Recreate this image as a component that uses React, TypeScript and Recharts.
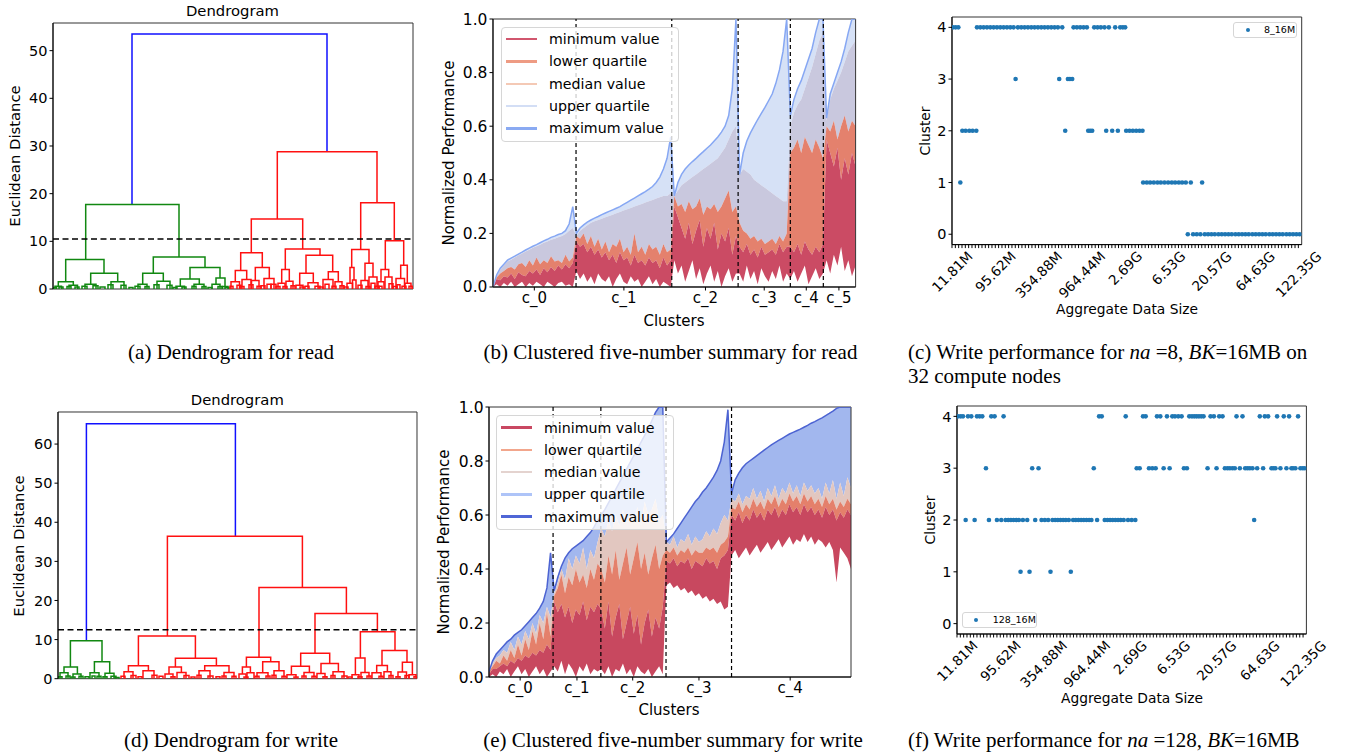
import React from 'react';
import {
  ComposedChart,
  LineChart,
  ScatterChart,
  Line,
  Area,
  Scatter,
  XAxis,
  YAxis,
  ReferenceLine,
  ReferenceArea,
} from 'recharts';

type Rect = { x: number; y: number; w: number; h: number };
// [left x, right x, left leg bottom, right leg bottom, top height, colour]
type Link = [number, number, number, number, number, string];
type Leaf = [number, number, number];

const SANS = '"DejaVu Sans", Verdana, sans-serif';
const SERIF = '"Liberation Serif", "Times New Roman", serif';
const tick = (fontSize: number) => ({ fontSize, fill: '#000', fontFamily: SANS });

const G = '#118811';
const R = '#ff1010';
const B = '#1010ff';

// ---------- (a) dendrogram for read ----------
const readSpan = 360;
const readCut = 10.5;
const readTicks = [0, 10, 20, 30, 40, 50];
const readLinks: Link[] = [
  [79, 274, 17.7, 28.8, 53.5, B],
  [32.7, 126, 6.2, 6.7, 17.7, G],
  [12.7, 51, 1.5, 3.3, 6.2, G],
  [5.3, 20.3, 0.6, 0.8, 1.5, G],
  [37.7, 64.7, 1.0, 1.5, 3.3, G],
  [100.3, 152, 3.3, 4.5, 6.7, G],
  [89.7, 110.3, 1.0, 1.6, 3.3, G],
  [137, 167, 2.1, 2.3, 4.5, G],
  [127.3, 146.3, 0.6, 1.0, 2.1, G],
  [163, 172, 1.0, 0.5, 2.3, G],
  [224.3, 324, 14.7, 18.1, 28.8, R],
  [198.3, 249.7, 7.6, 8.4, 14.7, R],
  [187.7, 209.3, 3.9, 4.5, 7.6, R],
  [182.3, 193.7, 1.5, 2.0, 3.9, R],
  [202.3, 216.3, 1.8, 2.2, 4.5, R],
  [232.3, 267, 4.1, 7.1, 8.4, R],
  [228.7, 236.3, 1.2, 1.6, 4.1, R],
  [253, 279.7, 3.3, 3.6, 7.1, R],
  [246.7, 260.3, 0.8, 1.3, 3.3, R],
  [275.3, 285.3, 2.0, 1.5, 3.6, R],
  [307.7, 341.3, 8.3, 10.1, 18.1, R],
  [298.7, 316, 4.5, 5.4, 8.3, R],
  [297, 301, 1.2, 1.9, 4.5, R],
  [312, 320, 1.8, 2.5, 5.4, R],
  [332.3, 350.7, 4.1, 5.0, 10.1, R],
  [328, 335.7, 1.5, 2.5, 4.1, R],
  [347.7, 354.3, 2.2, 1.2, 5.0, R],
];
const readLeavesGreen: Leaf[] = [
  [2, 8.5, 0.6], [16, 24.5, 0.8], [32, 43, 1.0], [58, 71, 1.5], [85, 94, 1.0],
  [104, 117, 1.6], [123, 131.5, 0.6], [141, 151, 1.0], [159, 167, 1.0], [169.5, 175, 0.5],
  [0.5, 3.5, 0.3], [6, 10, 0.4], [14, 18, 0.5], [22, 26, 0.4], [29, 34, 0.6],
  [40, 45, 0.7], [47, 52, 0.4], [55, 60, 0.9], [68, 73, 0.8], [76, 80, 0.3],
  [82, 87, 0.6], [92, 96, 0.5], [101, 106, 0.9], [114, 119, 0.8], [120, 124, 0.3],
  [129, 133, 0.4], [139, 143, 0.6], [149, 153, 0.5], [155, 159, 0.3], [165, 169, 0.5],
  [172, 176, 0.3],
];
const readLeavesRed: Leaf[] = [
  [178, 186.5, 1.5], [189, 198, 2.0], [198.5, 206, 1.8], [211, 221, 2.2], [225, 232, 1.2],
  [233, 240, 1.6], [243, 250, 0.8], [255, 265, 1.3], [270, 280, 2.0], [282, 289, 1.5],
  [294, 299.5, 1.2], [299.5, 303, 1.9], [308, 315, 1.8], [316, 324, 2.5], [325, 331, 1.5],
  [332, 339, 2.5], [343, 351.5, 2.2], [352, 358, 1.2], [177, 180, 0.6], [184, 188, 0.8],
  [187, 191, 0.5], [196, 200, 0.9], [204, 208, 0.6], [208, 212, 0.7], [214, 218, 1.0],
  [218, 223, 1.0], [223, 227, 0.5], [230, 234, 0.5], [238, 242, 0.7], [247, 251, 0.4],
  [252, 256, 0.6], [262, 267, 0.6], [266, 270, 0.4], [272, 276, 1.0], [279, 283, 0.6],
  [287, 291, 0.7], [291, 295, 0.4], [305, 309, 0.8], [313, 317, 0.5], [318, 322, 1.2],
  [322, 326, 0.6], [326, 329, 0.6], [336, 340, 1.1], [340, 344, 0.5], [344, 347, 0.9],
  [349, 353, 0.6], [356, 359.5, 0.6],
];

// ---------- (d) dendrogram for write ----------
const writeSpan = 359;
const writeCut = 12.5;
const writeTicks = [0, 10, 20, 30, 40, 50, 60];
const writeLinks: Link[] = [
  [28.4, 177.4, 9.7, 36.4, 65.2, B],
  [12.4, 44, 3.0, 4.3, 9.7, G],
  [6, 19.4, 1.5, 1.2, 3.0, G],
  [36.4, 51.7, 1.5, 1.4, 4.3, G],
  [109.4, 244.4, 10.9, 23.3, 36.4, R],
  [80.4, 137.4, 3.3, 5.2, 10.9, R],
  [70.4, 90.4, 1.8, 2.0, 3.3, R],
  [117.4, 158.4, 3.0, 3.3, 5.2, R],
  [111, 123.4, 1.2, 1.6, 3.0, R],
  [146.7, 171, 2.0, 1.6, 3.3, R],
  [201, 288.4, 5.5, 16.7, 23.3, R],
  [188.4, 212.7, 3.0, 4.3, 5.5, R],
  [184.4, 192.4, 1.2, 1.5, 3.0, R],
  [204.7, 221, 1.5, 2.0, 4.3, R],
  [257, 319.4, 6.5, 12.0, 16.7, R],
  [242.7, 271.7, 3.2, 3.9, 6.5, R],
  [233.4, 251.4, 1.0, 1.6, 3.2, R],
  [263, 280.4, 1.3, 1.8, 3.9, R],
  [302.4, 337, 5.3, 7.2, 12.0, R],
  [297.4, 307, 1.0, 1.6, 5.3, R],
  [324, 349, 3.4, 4.2, 7.2, R],
  [318.7, 329.4, 1.5, 1.8, 3.4, R],
  [344.4, 354.4, 1.7, 1.0, 4.2, R],
];
const writeLeavesGreen: Leaf[] = [
  [2, 10, 1.5], [15, 23, 1.2], [32, 41, 1.5], [47, 56, 1.4], [0.5, 4, 0.5],
  [8, 12, 0.7], [13, 17, 0.4], [21, 25, 0.6], [27, 31, 0.5], [34, 37, 0.7],
  [39, 43, 0.6], [45, 49, 0.5], [53, 58, 0.6], [57, 61, 0.3],
];
const writeLeavesRed: Leaf[] = [
  [66, 75, 1.8], [85, 96, 2.0], [107, 115, 1.2], [119, 128, 1.6], [141, 152, 2.0],
  [166, 176, 1.6], [181, 188, 1.2], [189, 196, 1.5], [199, 210, 1.5], [216, 226, 2.0],
  [229, 238, 1.0], [246, 256, 1.6], [259, 267, 1.3], [275, 286, 1.8], [294, 301, 1.0],
  [303, 311, 1.6], [314, 323, 1.5], [326, 333, 1.8], [340, 348.5, 1.7], [351, 358, 1.0],
  [63, 67, 0.6], [73, 78, 0.8], [80, 84, 0.5], [94, 99, 0.9], [101, 105, 0.6],
  [113, 117, 0.5], [126, 131, 0.8], [133, 137, 0.4], [139, 143, 0.9], [150, 155, 0.7],
  [158, 162, 0.5], [164, 168, 0.7], [174, 178, 0.6], [186, 190, 0.4], [197, 201, 0.6],
  [208, 212, 0.7], [214, 218, 0.9], [224, 228, 0.6], [236, 240, 0.4], [244, 248, 0.7],
  [254, 258, 0.6], [265, 269, 0.5], [273, 277, 0.8], [284, 289, 0.7], [290, 294, 0.4],
  [300, 304, 0.5], [309, 313, 0.7], [321, 325, 0.6], [331, 335, 0.8], [338, 342, 0.5],
  [347, 351, 0.8], [356, 359, 0.5],
];

// ---------- (b) five-number summary for read (101 samples, c_0..c_5) ----------
const readClusterNames = ['c_0', 'c_1', 'c_2', 'c_3', 'c_4', 'c_5'];
const readCenters = [11.4, 36.1, 58.6, 74.8, 86.4, 95.4];
const readBounds = [22.9, 49.3, 67.6, 82, 91.1];
const readMax = [
  0.0, 0.045, 0.07, 0.085, 0.1, 0.108, 0.115, 0.123, 0.13, 0.138, 0.145, 0.152, 0.158, 0.165, 0.172, 0.178, 0.185, 0.19, 0.196, 0.2, 0.21, 0.235, 0.3,
  0.2, 0.22, 0.232, 0.242, 0.25, 0.257, 0.263, 0.27, 0.276, 0.282, 0.288, 0.294, 0.3, 0.308, 0.316, 0.324, 0.332, 0.34, 0.348, 0.356, 0.365, 0.375, 0.39, 0.41, 0.44, 0.48, 0.56,
  0.34, 0.39, 0.42, 0.44, 0.455, 0.468, 0.48, 0.493, 0.505, 0.518, 0.53, 0.545, 0.56, 0.578, 0.6, 0.64, 0.74, 1.0,
  0.42, 0.5, 0.545, 0.575, 0.6, 0.625, 0.648, 0.67, 0.695, 0.72, 0.76, 0.81, 0.88, 1.0,
  0.64, 0.7, 0.74, 0.77, 0.81, 0.85, 0.89, 0.95, 1.0, 1.0,
  0.63, 0.72, 0.76, 0.8, 0.84, 0.89, 0.95, 1.0, 1.0,
];
const readQ3 = [
  0.0, 0.04, 0.065, 0.08, 0.095, 0.102, 0.11, 0.118, 0.125, 0.132, 0.139, 0.146, 0.152, 0.158, 0.165, 0.17, 0.176, 0.18, 0.186, 0.19, 0.198, 0.21, 0.22,
  0.19, 0.21, 0.22, 0.23, 0.24, 0.245, 0.25, 0.255, 0.26, 0.265, 0.27, 0.275, 0.28, 0.285, 0.29, 0.295, 0.3, 0.305, 0.31, 0.315, 0.32, 0.325, 0.33, 0.335, 0.34, 0.34, 0.35,
  0.34, 0.36, 0.38, 0.39, 0.4, 0.41, 0.42, 0.43, 0.44, 0.45, 0.46, 0.47, 0.48, 0.5, 0.52, 0.55, 0.58, 0.6,
  0.42, 0.44, 0.43, 0.42, 0.4, 0.39, 0.38, 0.37, 0.36, 0.35, 0.34, 0.33, 0.32, 0.32,
  0.6, 0.65, 0.68, 0.7, 0.74, 0.78, 0.82, 0.87, 0.92, 0.95,
  0.62, 0.7, 0.74, 0.77, 0.8, 0.84, 0.88, 0.9, 0.92,
];
const readMedian = [
  0.0, 0.035, 0.05, 0.06, 0.07, 0.075, 0.065, 0.085, 0.09, 0.075, 0.1, 0.08, 0.11, 0.085, 0.1, 0.09, 0.115, 0.095, 0.1, 0.09, 0.12, 0.095, 0.11,
  0.19, 0.18, 0.2, 0.16, 0.19, 0.15, 0.18, 0.14, 0.17, 0.13, 0.16, 0.15, 0.18, 0.13, 0.15, 0.12, 0.2, 0.13, 0.15, 0.12, 0.16, 0.14, 0.15, 0.12, 0.16, 0.13, 0.14,
  0.34, 0.3, 0.31, 0.28, 0.32, 0.29, 0.3, 0.33, 0.27, 0.3, 0.29, 0.31, 0.28, 0.3, 0.33, 0.36, 0.28, 0.3,
  0.24, 0.21, 0.2, 0.18, 0.19, 0.17, 0.18, 0.16, 0.17, 0.18, 0.16, 0.19, 0.17, 0.2,
  0.5, 0.52, 0.55, 0.5, 0.56, 0.53, 0.5, 0.55, 0.52, 0.48,
  0.6, 0.58, 0.62, 0.55, 0.6, 0.64, 0.58, 0.62, 0.6,
];
const readQ1 = [
  0.0, 0.03, 0.025, 0.04, 0.035, 0.05, 0.03, 0.055, 0.045, 0.04, 0.06, 0.05, 0.065, 0.045, 0.07, 0.055, 0.075, 0.06, 0.08, 0.065, 0.085, 0.07, 0.09,
  0.17, 0.15, 0.16, 0.13, 0.15, 0.12, 0.14, 0.11, 0.13, 0.1, 0.12, 0.09, 0.13, 0.1, 0.11, 0.08, 0.12, 0.09, 0.1, 0.08, 0.11, 0.09, 0.1, 0.07, 0.11, 0.08, 0.1,
  0.3, 0.26, 0.22, 0.18, 0.24, 0.16, 0.21, 0.25, 0.15, 0.22, 0.18, 0.24, 0.14, 0.2, 0.17, 0.22, 0.12, 0.19,
  0.15, 0.13, 0.16, 0.12, 0.14, 0.11, 0.15, 0.12, 0.13, 0.14, 0.12, 0.16, 0.13, 0.15,
  0.15, 0.13, 0.16, 0.12, 0.17, 0.14, 0.12, 0.15, 0.13, 0.16,
  0.55, 0.5, 0.45, 0.52, 0.4, 0.48, 0.42, 0.5, 0.45,
];
const readMin = [
  0.0, 0.01, 0.0, 0.015, 0.005, 0.02, 0.0, 0.01, 0.02, 0.0, 0.015, 0.005, 0.02, 0.01, 0.0, 0.02, 0.01, 0.0, 0.015, 0.02, 0.005, 0.01, 0.0,
  0.06, 0.03, 0.05, 0.02, 0.04, 0.01, 0.05, 0.03, 0.02, 0.04, 0.0, 0.03, 0.05, 0.02, 0.01, 0.04, 0.02, 0.03, 0.0, 0.02, 0.04, 0.01, 0.03, 0.0, 0.02, 0.01, 0.0,
  0.1, 0.05, 0.08, 0.02, 0.06, 0.1, 0.03, 0.07, 0.01, 0.05, 0.08, 0.02, 0.06, 0.0, 0.04, 0.07, 0.02, 0.05,
  0.05, 0.02, 0.08, 0.03, 0.06, 0.01, 0.07, 0.04, 0.02, 0.06, 0.03, 0.08, 0.02, 0.05,
  0.03, 0.06, 0.02, 0.05, 0.08, 0.01, 0.04, 0.07, 0.03, 0.05,
  0.1, 0.05, 0.12, 0.08, 0.15, 0.06, 0.1, 0.04, 0.08,
];

// ---------- (e) five-number summary for write (101 samples, c_0..c_4) ----------
const writeClusterNames = ['c_0', 'c_1', 'c_2', 'c_3', 'c_4'];
const writeCenters = [8.6, 24.3, 39.7, 58, 83.2];
const writeBounds = [17.7, 30.9, 48.9, 67.0];
const writeMax = [
  0.02, 0.06, 0.085, 0.1, 0.115, 0.13, 0.14, 0.155, 0.165, 0.175, 0.19, 0.205, 0.22, 0.235, 0.255, 0.28, 0.33, 0.46,
  0.32, 0.37, 0.41, 0.44, 0.46, 0.475, 0.485, 0.495, 0.505, 0.52, 0.535, 0.555, 0.58,
  0.6, 0.62, 0.645, 0.67, 0.695, 0.72, 0.745, 0.77, 0.795, 0.82, 0.845, 0.87, 0.895, 0.92, 0.95, 0.98, 1.0, 1.0,
  0.5, 0.515, 0.53, 0.55, 0.57, 0.59, 0.61, 0.63, 0.65, 0.665, 0.685, 0.7, 0.72, 0.74, 0.765, 0.8, 0.87, 0.99,
  0.68, 0.73, 0.755, 0.775, 0.79, 0.8, 0.81, 0.82, 0.83, 0.84, 0.85, 0.86, 0.868, 0.876, 0.884, 0.892, 0.9,
  0.906, 0.912, 0.918, 0.925, 0.932, 0.94, 0.946, 0.953, 0.96, 0.968, 0.976, 0.985, 0.995, 1.0, 1.0, 1.0, 1.0,
];
const writeQ3 = [
  0.02, 0.05, 0.07, 0.08, 0.1, 0.09, 0.13, 0.1, 0.15, 0.12, 0.17, 0.14, 0.2, 0.16, 0.23, 0.2, 0.26, 0.22,
  0.31, 0.35, 0.4, 0.36, 0.44, 0.4, 0.45, 0.42, 0.48, 0.4, 0.47, 0.44, 0.5,
  0.55, 0.52, 0.58, 0.54, 0.6, 0.56, 0.62, 0.57, 0.6, 0.58, 0.63, 0.56, 0.65, 0.6, 0.62, 0.66, 0.58, 0.6,
  0.5, 0.49, 0.52, 0.48, 0.51, 0.5, 0.53, 0.49, 0.52, 0.5, 0.51, 0.54, 0.52, 0.55, 0.53, 0.57, 0.6, 0.58,
  0.66, 0.65, 0.68, 0.64, 0.67, 0.66, 0.7, 0.66, 0.69, 0.65, 0.7, 0.67, 0.71, 0.66, 0.7, 0.68, 0.72,
  0.68, 0.71, 0.67, 0.72, 0.69, 0.71, 0.68, 0.7, 0.66, 0.72, 0.68, 0.73, 0.66, 0.72, 0.67, 0.74, 0.7,
];
const writeMedian = [
  0.02, 0.04, 0.06, 0.05, 0.08, 0.06, 0.1, 0.07, 0.12, 0.08, 0.14, 0.1, 0.17, 0.12, 0.2, 0.14, 0.24, 0.15,
  0.3, 0.33, 0.38, 0.31, 0.37, 0.34, 0.4, 0.35, 0.38, 0.33, 0.4, 0.36, 0.42,
  0.4, 0.35, 0.45, 0.38, 0.47, 0.36, 0.42, 0.48, 0.38, 0.44, 0.5, 0.4, 0.46, 0.38, 0.44, 0.49, 0.4, 0.45,
  0.47, 0.46, 0.48, 0.45, 0.47, 0.46, 0.48, 0.45, 0.47, 0.46, 0.46, 0.48, 0.47, 0.48, 0.46, 0.49, 0.5, 0.52,
  0.63, 0.62, 0.65, 0.61, 0.64, 0.62, 0.66, 0.63, 0.65, 0.62, 0.66, 0.64, 0.67, 0.63, 0.66, 0.64, 0.68,
  0.65, 0.67, 0.64, 0.68, 0.65, 0.67, 0.64, 0.66, 0.63, 0.67, 0.64, 0.66, 0.62, 0.65, 0.63, 0.66, 0.64,
];
const writeQ1 = [
  0.01, 0.03, 0.03, 0.04, 0.05, 0.04, 0.06, 0.05, 0.07, 0.06, 0.08, 0.07, 0.09, 0.08, 0.1, 0.09, 0.12, 0.1,
  0.28, 0.24, 0.27, 0.22, 0.26, 0.2, 0.25, 0.23, 0.28, 0.21, 0.26, 0.24, 0.27,
  0.25, 0.18, 0.28, 0.15, 0.22, 0.27, 0.14, 0.2, 0.26, 0.16, 0.23, 0.12, 0.2, 0.25, 0.15, 0.22, 0.18, 0.26,
  0.43, 0.42, 0.44, 0.41, 0.43, 0.42, 0.44, 0.4, 0.43, 0.42, 0.41, 0.44, 0.42, 0.43, 0.4, 0.44, 0.45, 0.47,
  0.6, 0.58, 0.61, 0.57, 0.6, 0.58, 0.62, 0.59, 0.61, 0.58, 0.62, 0.6, 0.63, 0.59, 0.62, 0.6, 0.64,
  0.61, 0.63, 0.6, 0.64, 0.61, 0.63, 0.6, 0.62, 0.59, 0.63, 0.6, 0.62, 0.58, 0.61, 0.59, 0.62, 0.6,
];
const writeMin = [
  0.0, 0.01, 0.0, 0.02, 0.01, 0.03, 0.0, 0.02, 0.04, 0.01, 0.03, 0.0, 0.02, 0.04, 0.01, 0.03, 0.0, 0.02,
  0.04, 0.02, 0.06, 0.01, 0.05, 0.03, 0.0, 0.04, 0.02, 0.05, 0.01, 0.03, 0.02,
  0.03, 0.01, 0.04, 0.0, 0.03, 0.02, 0.05, 0.01, 0.03, 0.0, 0.04, 0.02, 0.01, 0.03, 0.0, 0.02, 0.04, 0.01,
  0.34, 0.35, 0.33, 0.34, 0.32, 0.33, 0.31, 0.32, 0.3, 0.31, 0.29, 0.3, 0.28, 0.29, 0.27, 0.28, 0.25, 0.26,
  0.45, 0.47, 0.44, 0.46, 0.48, 0.45, 0.47, 0.49, 0.46, 0.48, 0.5, 0.47, 0.49, 0.51, 0.48, 0.5, 0.52,
  0.49, 0.51, 0.5, 0.53, 0.5, 0.52, 0.49, 0.51, 0.5, 0.48, 0.5, 0.47, 0.35, 0.48, 0.46, 0.44, 0.4,
];

const statNames = ['minimum value', 'lower quartile', 'median value', 'upper quartile', 'maximum value'];

// ---------- (c)/(f) cluster membership over aggregate data size ----------
const sizeLabels = ['11.81M', '95.62M', '354.88M', '964.44M', '2.69G', '6.53G', '20.57G', '64.63G', '122.35G'];
const sizeLabelPos = [0, 13, 26, 39, 52, 65, 78, 91, 104];
const sizeMinorTicks = Array.from({ length: 105 }, (_, k) => k);

const na8Cluster4 = [
  0.3, 1.1, 1.9, 7.5, 8.5, 9.5, 10.5, 11.5, 12.5, 13.5, 14.5, 15.5, 16.5, 17.5, 18.5,
  19.8, 20.8, 21.8, 22.8, 23.8, 24.8, 25.8, 26.8, 27.8, 28.8, 29.8, 30.8, 31.8, 33.1,
  36.5, 37.5, 38.5, 39.5, 40.5, 42.7, 43.7, 44.7, 45.8, 47.1, 49.0, 50.5, 51.3, 52.0,
];
const na8Cluster3 = [19.1, 32.2, 34.8, 35.4, 36.1];
const na8Cluster2 = [3.1, 4.1, 5.2, 6.2, 7.3, 34.0, 40.9, 41.5, 42.1, 46.3, 48.1, 49.8, 52.3, 53.3, 54.3, 55.3, 56.3, 57.2];
const na8Cluster1 = [2.5, 57.4, 58.5, 59.5, 60.6, 61.7, 62.7, 63.8, 64.9, 66.0, 67.0, 68.1, 69.1, 70.2, 71.7, 75.1];
const na8Cluster0 = [
  70.8, 72.4, 73.5, 74.6, 75.9, 76.9, 77.9, 78.9, 80.0, 81.0, 82.0, 83.0, 84.0, 85.1, 86.1, 87.1,
  88.1, 89.1, 90.2, 91.2, 92.2, 93.2, 94.2, 95.3, 96.3, 97.3, 98.3, 99.3, 100.4, 101.4, 102.4, 103.4, 104.4,
];

const na128Cluster4 = [
  0.3, 1.1, 1.8, 3.3, 4.3, 6.0, 6.8, 7.6, 10.3, 11.3, 14.0, 42.7, 43.5, 50.7, 55.9, 56.7, 60.1, 61.1,
  63.1, 64.7, 65.5, 66.5, 67.5, 69.8, 70.6, 71.3, 72.0, 72.7, 73.4, 74.1, 76.2, 77.2, 78.8, 79.8,
  84.0, 85.8, 91.0, 92.5, 93.5, 96.2, 98.2, 99.8, 102.5,
];
const na128Cluster3 = [
  8.7, 22.6, 24.5, 41.1, 54.0, 54.9, 57.7, 58.7, 59.7, 62.1, 63.9, 68.2, 69.1, 75.3, 78.0,
  80.5, 81.3, 82.0, 82.8, 83.5, 85.0, 86.6, 87.3, 88.0, 88.8, 90.2, 92.0, 94.5, 95.1, 95.7,
  97.2, 99.0, 100.5, 101.0, 101.7, 103.2, 103.9, 104.5,
];
const na128Cluster2 = [
  2.6, 5.3, 9.6, 12.0, 13.3, 14.6, 15.4, 16.2, 17.0, 17.8, 18.6, 19.8, 21.1, 23.5, 25.4, 26.4, 27.4,
  28.7, 29.5, 30.3, 31.1, 31.9, 32.7, 33.6, 34.9, 35.7, 36.5, 37.3, 38.1, 38.9, 39.7, 40.4, 42.1,
  44.4, 45.2, 46.0, 46.8, 47.6, 48.4, 49.2, 50.1, 51.4, 52.5, 53.6, 89.3,
];
const na128Cluster1 = [19.1, 21.8, 28.1, 34.2];
const na128Cluster0: number[] = [];

function bandRows(min: number[], q1: number[], med: number[], q3: number[], max: number[]) {
  return max.map((m, i) => ({
    i,
    b1: [min[i], q1[i]],
    b2: [q1[i], med[i]],
    b3: [med[i], q3[i]],
    b4: [q3[i], m],
    max: m,
  }));
}

function clusterPoints(byCluster: number[][]) {
  return byCluster.flatMap((xs, c) => xs.map((x) => ({ x, y: c })));
}

const readRows = bandRows(readMin, readQ1, readMedian, readQ3, readMax);
const writeRows = bandRows(writeMin, writeQ1, writeMedian, writeQ3, writeMax);
const na8Points = clusterPoints([na8Cluster0, na8Cluster1, na8Cluster2, na8Cluster3, na8Cluster4]);
const na128Points = clusterPoints([na128Cluster0, na128Cluster1, na128Cluster2, na128Cluster3, na128Cluster4]);

// ---------- small text helpers ----------
function Label({ x, y, size = 14.8, rotate = false, children }: any) {
  return (
    <div
      style={{
        position: 'absolute',
        left: x,
        top: y,
        transform: `translate(-50%, -50%)${rotate ? ' rotate(-90deg)' : ''}`,
        fontSize: size,
        fontFamily: SANS,
        whiteSpace: 'nowrap',
        lineHeight: 1,
        color: '#000',
      }}
    >
      {children}
    </div>
  );
}

function Caption({ x, y, center = true, children }: any) {
  return (
    <div
      style={{
        position: 'absolute',
        left: x,
        top: y,
        transform: center ? 'translate(-50%, -50%)' : 'translateY(-50%)',
        fontSize: 21,
        fontFamily: SERIF,
        whiteSpace: 'nowrap',
        lineHeight: 1,
        color: '#000',
      }}
    >
      {children}
    </div>
  );
}

function leafToLink(l: Leaf, c: string): Link {
  return [l[0], l[1], 0, 0, l[2], c];
}

function Dendrogram({ plot, span, yMax, ticks, cut, links, leavesG, leavesR }: any) {
  const yw = 46;
  const mt = 12;
  const mr = 12;
  const mb = 10;
  const all: Link[] = [
    ...leavesG.map((l: Leaf) => leafToLink(l, G)),
    ...leavesR.map((l: Leaf) => leafToLink(l, R)),
    ...links,
  ];
  return (
    <div style={{ position: 'absolute', left: plot.x - yw, top: plot.y - mt }}>
      <LineChart width={yw + plot.w + mr} height={mt + plot.h + mb} margin={{ top: mt, right: mr, bottom: mb, left: 0 }}>
        <XAxis type="number" dataKey="x" domain={[0, span]} hide allowDataOverflow />
        <YAxis
          type="number"
          domain={[0, yMax]}
          ticks={ticks}
          interval={0}
          width={yw}
          tick={tick(14.5)}
          tickSize={3.5}
          tickMargin={2}
          stroke="#000"
          allowDataOverflow
        />
        {all.map((l, k) => (
          <Line
            key={k}
            data={[
              { x: l[0], y: l[2] },
              { x: l[0], y: l[4] },
              { x: l[1], y: l[4] },
              { x: l[1], y: l[3] },
            ]}
            dataKey="y"
            stroke={l[5]}
            strokeWidth={1.5}
            dot={false}
            activeDot={false}
            isAnimationActive={false}
          />
        ))}
        <ReferenceLine y={cut} stroke="#000" strokeDasharray="6 3.5" strokeWidth={1.5} />
        <ReferenceArea x1={0} x2={span} y1={0} y2={yMax} fill="none" stroke="#333" strokeWidth={1} />
      </LineChart>
    </div>
  );
}

function FiveNumber({ plot, rows, bounds, centers, names, fills, maxColor }: any) {
  const yw = 48;
  const mt = 12;
  const mr = 12;
  const xh = 30;
  return (
    <div style={{ position: 'absolute', left: plot.x - yw, top: plot.y - mt }}>
      <ComposedChart width={yw + plot.w + mr} height={mt + plot.h + xh} data={rows} margin={{ top: mt, right: mr, bottom: 0, left: 0 }}>
        <XAxis
          type="number"
          dataKey="i"
          domain={[0, 100]}
          ticks={centers}
          interval={0}
          tickFormatter={(v: number) => names[centers.indexOf(v)]}
          height={xh}
          tick={tick(15)}
          tickSize={3.5}
          tickMargin={2}
          stroke="#000"
          allowDataOverflow
        />
        <YAxis
          type="number"
          domain={[0, 1]}
          ticks={[0, 0.2, 0.4, 0.6, 0.8, 1.0]}
          interval={0}
          tickFormatter={(v: number) => v.toFixed(1)}
          width={yw}
          tick={tick(15.5)}
          tickSize={3.5}
          tickMargin={2}
          stroke="#000"
          allowDataOverflow
        />
        <Area dataKey="b4" fill={fills[3]} fillOpacity={1} stroke="none" isAnimationActive={false} />
        <Area dataKey="b3" fill={fills[2]} fillOpacity={1} stroke="none" isAnimationActive={false} />
        <Area dataKey="b2" fill={fills[1]} fillOpacity={1} stroke="none" isAnimationActive={false} />
        <Area dataKey="b1" fill={fills[0]} fillOpacity={1} stroke="none" isAnimationActive={false} />
        <Line dataKey="max" stroke={maxColor} strokeWidth={1.5} dot={false} activeDot={false} isAnimationActive={false} />
        {bounds.map((b: number) => (
          <ReferenceLine key={b} x={b} stroke="#000" strokeDasharray="4 3" strokeWidth={1.2} />
        ))}
        <ReferenceArea x1={0} x2={100} y1={0} y2={1} fill="none" stroke="#333" strokeWidth={1} />
      </ComposedChart>
    </div>
  );
}

function StatLegend({ box, colors, textLeft }: any) {
  return (
    <div
      style={{
        position: 'absolute',
        left: box.x,
        top: box.y,
        width: box.w,
        height: box.h,
        boxSizing: 'border-box',
        background: 'rgba(255,255,255,0.8)',
        border: '1px solid #d6d6d6',
        borderRadius: 4,
      }}
    >
      {statNames.map((t, k) => (
        <div
          key={t}
          style={{
            position: 'absolute',
            left: 4,
            top: 3 + k * 22.3,
            height: 17,
            display: 'flex',
            alignItems: 'center',
            fontSize: 14.2,
            fontFamily: SANS,
            whiteSpace: 'nowrap',
          }}
        >
          <span style={{ display: 'inline-block', width: 31, height: 2.5, background: colors[k], marginRight: textLeft }} />
          {t}
        </div>
      ))}
    </div>
  );
}

const DEJAVU_W: Record<string, number> = { '.': 0.318, M: 0.863, G: 0.775 };
function labelWidth(s: string, size: number) {
  return s.split('').reduce((w, ch) => w + (DEJAVU_W[ch] ?? 0.636), 0) * size;
}

function SizeTick({ x, y, payload }: any) {
  const k = sizeLabelPos.indexOf(payload.value);
  if (k < 0) return <g />;
  const label = sizeLabels[k];
  const fs = 13.6;
  const half = ((labelWidth(label, fs) + fs * 1.15) * 0.7071) / 2;
  return (
    <text
      x={0}
      y={0}
      transform={`translate(${x},${y + half}) rotate(-45)`}
      textAnchor="middle"
      dominantBaseline="central"
      fontSize={fs}
      fontFamily={SANS}
      fill="#000"
    >
      {label}
    </text>
  );
}

function ClusterScatter({ plot, points }: any) {
  const yw = 40;
  const mt = 12;
  const mr = 45;
  const xh = 70;
  return (
    <div style={{ position: 'absolute', left: plot.x - yw, top: plot.y - mt }}>
      <ScatterChart width={yw + plot.w + mr} height={mt + plot.h + xh} margin={{ top: mt, right: mr, bottom: 0, left: 0 }}>
        <XAxis
          type="number"
          dataKey="x"
          domain={[0, 105]}
          ticks={sizeMinorTicks}
          interval={0}
          tick={(p: any) => <SizeTick {...p} />}
          tickSize={3.5}
          tickMargin={0}
          height={xh}
          stroke="#000"
          allowDataOverflow
        />
        <YAxis
          type="number"
          dataKey="y"
          domain={[-0.2, 4.2]}
          ticks={[0, 1, 2, 3, 4]}
          interval={0}
          width={yw}
          tick={tick(14.5)}
          tickSize={3.5}
          tickMargin={2}
          stroke="#000"
          allowDataOverflow
        />
        <Scatter
          data={points}
          fill="#1f77b4"
          isAnimationActive={false}
          shape={(p: any) => <circle cx={p.cx} cy={p.cy} r={2.3} fill="#1f77b4" />}
        />
        <ReferenceArea x1={0} x2={105} y1={-0.2} y2={4.2} fill="none" stroke="#333" strokeWidth={1} />
      </ScatterChart>
    </div>
  );
}

function DotLegend({ box, text, dotLeft, textLeft }: any) {
  return (
    <div
      style={{
        position: 'absolute',
        left: box.x,
        top: box.y,
        width: box.w,
        height: box.h,
        boxSizing: 'border-box',
        background: 'rgba(255,255,255,0.8)',
        border: '1px solid #d6d6d6',
        borderRadius: 3,
        fontSize: 9.5,
        fontFamily: SANS,
      }}
    >
      <span
        style={{
          position: 'absolute',
          left: dotLeft - 2,
          top: box.h / 2 - 3,
          width: 4,
          height: 4,
          borderRadius: 2,
          background: '#1f77b4',
        }}
      />
      <span style={{ position: 'absolute', left: textLeft, top: box.h / 2 - 8, lineHeight: '14px' }}>{text}</span>
    </div>
  );
}

const readFills = ['#cb4b64', '#e4816d', '#c9c8de', '#d6e1f6'];
const writeFills = ['#c8485f', '#e4806b', '#e2c7c0', '#a2b7ee'];
const readLegendColors = ['#d1566e', '#ee9b83', '#f4c9b5', '#d3def5', '#8aaaf2'];
const writeLegendColors = ['#c94862', '#f2a68c', '#e4d3cf', '#aec4f8', '#4f66d6'];

export default function App() {
  const plotA: Rect = { x: 53, y: 23, w: 360, h: 266 };
  const plotD: Rect = { x: 58.3, y: 412.3, w: 359, h: 266.7 };
  const plotB: Rect = { x: 492.7, y: 19.3, w: 362.6, h: 268 };
  const plotE: Rect = { x: 488.7, y: 407.3, w: 362, h: 270 };
  const plotC: Rect = { x: 952.3, y: 16.7, w: 349.7, h: 227.6 };
  const plotF: Rect = { x: 957.3, y: 405.7, w: 349.4, h: 228 };

  return (
    <div
      style={{
        position: 'absolute',
        left: 0,
        top: 0,
        width: 1359,
        height: 754,
        background: '#fff',
        overflow: 'hidden',
        fontFamily: SANS,
      }}
    >
      {/* (a) */}
      <Label x={232.5} y={10.5}>Dendrogram</Label>
      <Dendrogram plot={plotA} span={readSpan} yMax={55.8} ticks={readTicks} cut={readCut} links={readLinks} leavesG={readLeavesGreen} leavesR={readLeavesRed} />
      <Label x={15} y={156} rotate>Euclidean Distance</Label>
      <Caption x={231} y={352}>(a) Dendrogram for read</Caption>

      {/* (b) */}
      <FiveNumber plot={plotB} rows={readRows} bounds={readBounds} centers={readCenters} names={readClusterNames} fills={readFills} maxColor="#86a7f3" />
      <StatLegend box={{ x: 501, y: 26.7, w: 178, h: 115 }} colors={readLegendColors} textLeft={12} />
      <Label x={449} y={153} size={15} rotate>Normalized Performance</Label>
      <Label x={674} y={321} size={15}>Clusters</Label>
      <Caption x={670.5} y={352}>(b) Clustered five-number summary for read</Caption>

      {/* (c) */}
      <ClusterScatter plot={plotC} points={na8Points} />
      <DotLegend box={{ x: 1233, y: 21.7, w: 64, h: 16.6 }} text="8_16M" dotLeft={13.7} textLeft={30} />
      <Label x={926} y={131} size={13.8} rotate>Cluster</Label>
      <Label x={1127} y={309.5} size={13.8}>Aggregate Data Size</Label>
      <Caption x={908} y={352} center={false}>
        (c) Write performance for <i>na</i> =8, <i>BK</i>=16MB on
      </Caption>
      <Caption x={908} y={376} center={false}>32 compute nodes</Caption>

      {/* (d) */}
      <Label x={237.3} y={399.5}>Dendrogram</Label>
      <Dendrogram plot={plotD} span={writeSpan} yMax={68.2} ticks={writeTicks} cut={writeCut} links={writeLinks} leavesG={writeLeavesGreen} leavesR={writeLeavesRed} />
      <Label x={19} y={546} rotate>Euclidean Distance</Label>
      <Caption x={231} y={740}>(d) Dendrogram for write</Caption>

      {/* (e) */}
      <FiveNumber plot={plotE} rows={writeRows} bounds={writeBounds} centers={writeCenters} names={writeClusterNames} fills={writeFills} maxColor="#4c63d2" />
      <StatLegend box={{ x: 496, y: 415, w: 178, h: 115 }} colors={writeLegendColors} textLeft={12} />
      <Label x={444} y={542} size={15} rotate>Normalized Performance</Label>
      <Label x={669} y={710} size={15}>Clusters</Label>
      <Caption x={673} y={740}>(e) Clustered five-number summary for write</Caption>

      {/* (f) */}
      <ClusterScatter plot={plotF} points={na128Points} />
      <DotLegend box={{ x: 961.7, y: 611.7, w: 75.3, h: 16.6 }} text="128_16M" dotLeft={13.3} textLeft={30} />
      <Label x={931} y={520} size={13.8} rotate>Cluster</Label>
      <Label x={1132} y={698.5} size={13.8}>Aggregate Data Size</Label>
      <Caption x={908} y={740} center={false}>
        (f) Write performance for <i>na</i> =128, <i>BK</i>=16MB
      </Caption>
    </div>
  );
}
